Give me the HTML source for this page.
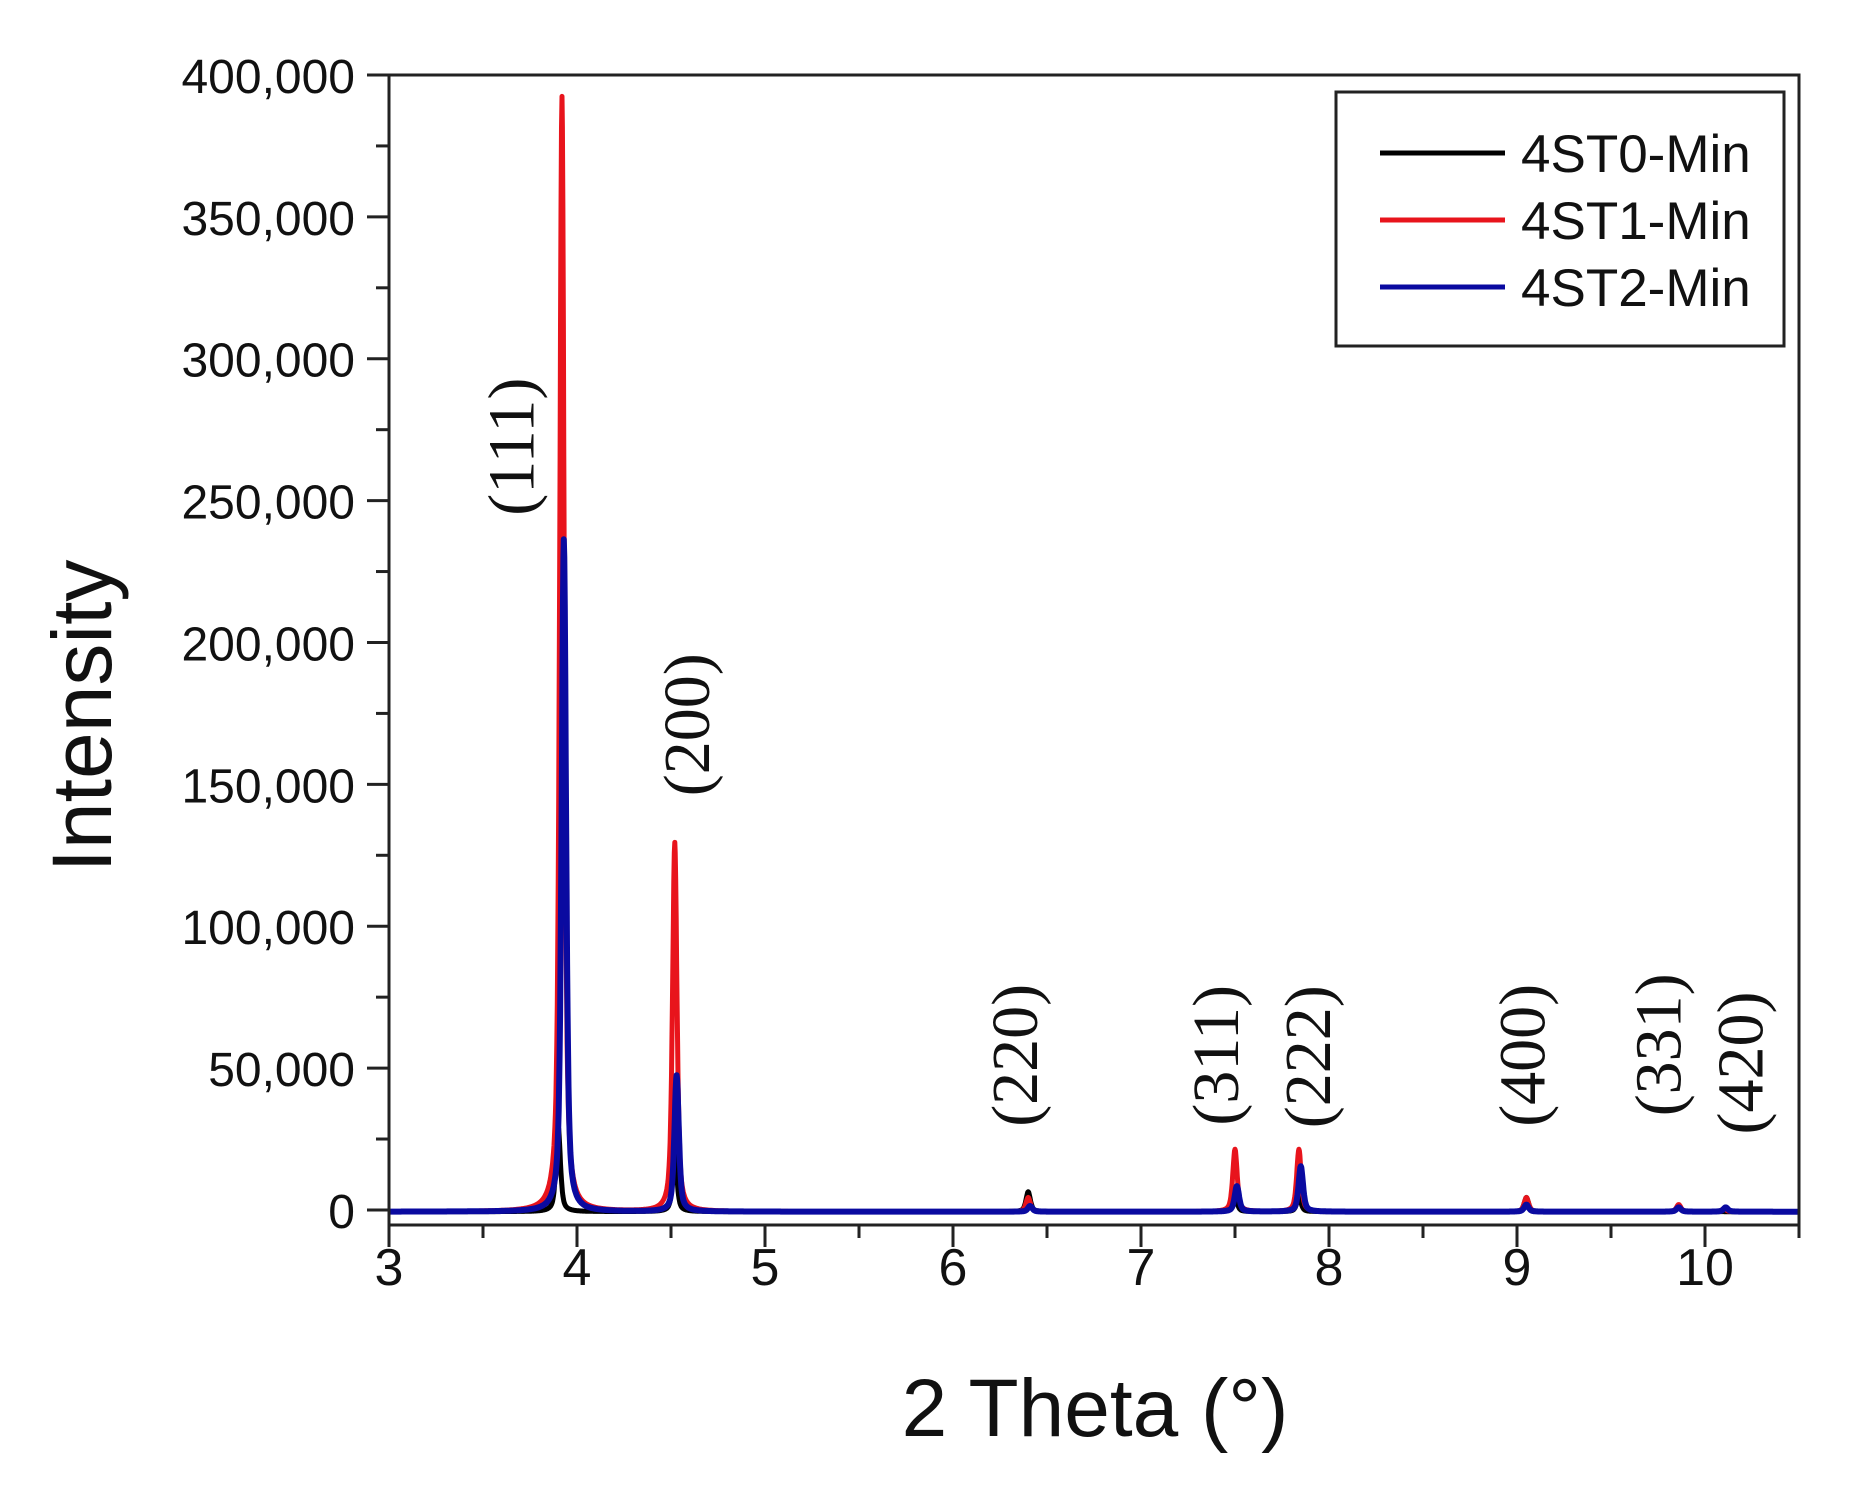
<!DOCTYPE html>
<html><head><meta charset="utf-8"><style>
body{margin:0;background:#fff}
svg{display:block}
</style></head><body>
<svg id="chart" width="1865" height="1512" viewBox="0 0 1865 1512" xmlns="http://www.w3.org/2000/svg" font-family="Liberation Sans, sans-serif">
<g id="plot"></g>
</svg>
<script>
const xTicks=[3,4,5,6,7,8,9,10];
const yTicks=[0,50000,100000,150000,200000,250000,300000,350000,400000];
const yTickLabels=["0","50,000","100,000","150,000","200,000","250,000","300,000","350,000","400,000"];
const seriesNames=["4ST0-Min","4ST1-Min","4ST2-Min"];
const seriesColors=["#000000","#e8141c","#0a0aa0"];
// peak positions (2θ) and heights per series
const peakPos0=[3.90,4.52,6.40,7.50,7.84,9.05,9.86];
const peakH0=[30000,20000,7000,5000,5000,5000,2000];
const peakPos1=[3.92,4.52,6.40,7.50,7.84,9.05,9.86,10.10];
const peakH1=[393000,130000,5000,22000,22000,5000,2500,1000];
const peakPos2=[3.93,4.53,6.41,7.51,7.85,9.05,9.86,10.11];
const peakH2=[237000,48000,2000,9000,16000,2500,1500,1500];
const peakLabels=["(111)","(200)","(220)","(311)","(222)","(400)","(331)","(420)"];
const peakLabelX=[3.654,4.585,6.33,7.40,7.89,9.03,9.755,10.19];
const peakLabelY=[269000,171000,54500,54500,54000,54500,58200,51800];

const L=389,R=1799,T=75,B=1225,xMin=3,xMax=10.5,yMin=-5300,yMax=400000;
const sx=v=>L+(v-xMin)/(xMax-xMin)*(R-L);
const sy=v=>B-(v-yMin)/(yMax-yMin)*(B-T);
const NS="http://www.w3.org/2000/svg";
const g=document.getElementById('plot');
function mk(tag,attrs,parent){const e=document.createElementNS(NS,tag);for(const k in attrs)e.setAttribute(k,attrs[k]);(parent||g).appendChild(e);return e;}

// series
const allPos=[peakPos0,peakPos1,peakPos2],allH=[peakH0,peakH1,peakH2];
[0,1,2].forEach(s=>{
  let d="";const w=0.014;
  for(let i=0;i<=3000;i++){
    const x=xMin+(xMax-xMin)*i/3000;let y=-600;
    allPos[s].forEach((p,j)=>{const t=(x-p)/w;y+=allH[s][j]*(0.6/(1+t*t)+0.4*Math.exp(-t*t*0.7));});
    d+=(i?"L":"M")+sx(x).toFixed(1)+" "+sy(y).toFixed(1);
  }
  const p=mk('path',{d:d,fill:'none',stroke:seriesColors[s],'stroke-width':s==2?6:5,'stroke-linejoin':'round'});
  
  
});

// axes frame
const fr=mk('rect',{x:L,y:T,width:R-L,height:B-T,fill:'none',stroke:'#222','stroke-width':3});



// x ticks
for(let v=3;v<=10.5;v+=0.5){
  const major=Number.isInteger(v);
  mk('line',{x1:sx(v),x2:sx(v),y1:B,y2:B+(major?22:13),stroke:'#222','stroke-width':3});
}
xTicks.forEach(v=>{
  const t=mk('text',{x:sx(v),y:B+60,'font-size':52,'text-anchor':'middle',fill:'#111'});
  t.textContent=v;
  
  
});
// y ticks
for(let v=0;v<=400000;v+=25000){
  const major=v%50000===0;
  mk('line',{x1:L,x2:L-(major?22:13),y1:sy(v),y2:sy(v),stroke:'#222','stroke-width':3});
}
yTicks.forEach((v,i)=>{
  const t=mk('text',{x:355,y:sy(v)+18,'font-size':48,'text-anchor':'end',fill:'#111'});
  t.textContent=yTickLabels[i];
  
  
});
// axis titles
const xt=mk('text',{x:1095,y:1436,'font-size':82,'text-anchor':'middle',fill:'#111'});
xt.textContent="2 Theta (°)";


const yt=mk('text',{x:0,y:0,'font-size':84,'text-anchor':'middle',fill:'#111',transform:'translate(111,716) rotate(-90)'});
yt.textContent="Intensity";



// peak labels
peakLabels.forEach((lab,i)=>{
  const fs=66;
  const x=sx(peakLabelX[i])+fs*0.33,y=sy(peakLabelY[i]);
  const t=mk('text',{x:0,y:0,'font-size':fs,'font-family':'Liberation Serif, serif','text-anchor':'middle',fill:'#111',transform:`translate(${x},${y}) rotate(-90)`});
  t.textContent=lab;
  
  
});

// legend
const lg=mk('g',{});


mk('rect',{x:1336,y:92,width:448,height:254,fill:'#fff',stroke:'#222','stroke-width':3},lg);
seriesNames.forEach((n,i)=>{
  const y=153+i*67;
  mk('line',{x1:1380,x2:1505,y1:y,y2:y,stroke:seriesColors[i],'stroke-width':5},lg);
  const t=mk('text',{x:1521,y:y+19,'font-size':53,fill:'#111'},lg);
  t.textContent=n;
  
  
});
</script>
</body></html>
